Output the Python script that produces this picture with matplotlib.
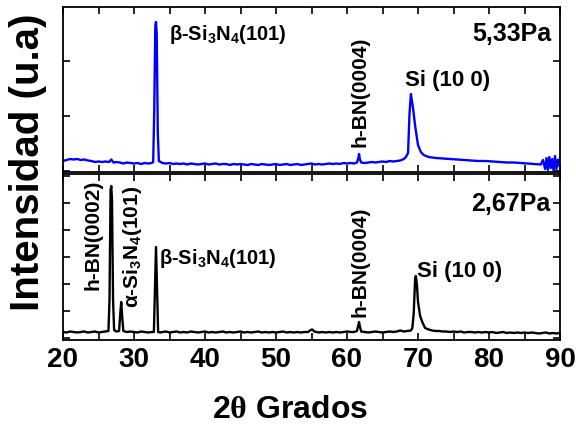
import matplotlib
matplotlib.use("Agg")
import matplotlib.pyplot as plt
from matplotlib.ticker import MultipleLocator

plt.rcParams['font.family'] = ['Liberation Sans', 'DejaVu Sans']
plt.rcParams['font.weight'] = 'bold'
plt.rcParams['mathtext.fontset'] = 'custom'
plt.rcParams['mathtext.rm'] = 'Liberation Sans:bold'
plt.rcParams['mathtext.it'] = 'Liberation Sans:bold'
plt.rcParams['mathtext.bf'] = 'Liberation Sans:bold'
plt.rcParams['mathtext.sf'] = 'Liberation Serif'

# ---- data: 5,33 Pa (blue, top) ----
x_533 = [20.0, 20.5, 21.0, 21.5, 22.0, 22.5, 23.0, 23.5, 24.0, 24.5, 25.0, 25.5, 26.0, 26.5,
         26.8, 27.1, 27.5, 28.0, 28.5, 29.0, 29.5, 30.0, 30.5, 31.0, 31.5, 32.0, 32.5, 32.7,
         32.85, 33.0, 33.1, 33.2, 33.35, 33.5, 34.0, 34.5, 35.0, 35.5, 36.0, 36.5, 37.0, 37.5,
         38.0, 38.5, 39.0, 39.5, 40.0, 40.5, 41.0, 41.5, 42.0, 42.5, 43.0, 43.5, 44.0, 44.5,
         45.0, 45.5, 46.0, 46.5, 47.0, 47.5, 48.0, 48.5, 49.0, 49.5, 50.0, 50.5, 51.0, 51.5,
         52.0, 52.5, 53.0, 53.5, 54.0, 54.5, 55.0, 55.5, 56.0, 56.5, 57.0, 57.5, 58.0, 58.5,
         59.0, 59.5, 60.0, 60.5, 61.0, 61.4, 61.6, 61.7, 61.8, 62.0, 62.5, 63.0, 63.5, 64.0,
         64.5, 65.0, 65.5, 66.0, 66.5, 67.0, 67.5, 68.0, 68.3, 68.6, 68.8, 69.0, 69.3, 69.6,
         70.0, 70.4, 70.8, 71.5, 72.5, 73.5, 74.5, 75.5, 76.5, 77.5, 78.5, 79.5, 80.5, 81.5,
         82.5, 83.5, 84.5, 85.5, 86.5, 87.3, 87.6, 87.9, 88.1, 88.3, 88.5, 88.7, 88.9, 89.1,
         89.3, 89.5, 89.7, 89.9, 90.0]
y_533 = [11, 12, 13, 12.5, 13, 12, 12.5, 11.5, 11, 10, 10.5, 10, 10.5, 10,
         12.5, 9.5, 10, 9.5, 8.5, 9.5, 9, 8.5, 9, 8, 9, 8.5, 9, 10,
         60, 146, 150, 138, 40, 11, 9, 8.5, 9, 8, 8.5, 8, 8.5, 7.5,
         8.5, 8, 7.5, 8, 8.5, 7.5, 8, 8.5, 7.5, 8, 8, 7, 8, 7.5,
         8, 7.5, 7, 8, 7.5, 7, 8, 7.5, 7, 7.5, 8, 7, 7.5, 8,
         7, 7.5, 8, 7, 7.5, 8, 8.5, 7.5, 8, 7.5, 8, 8.5, 8, 8.5,
         8, 9, 8.5, 9, 8.5, 9.5, 14, 18, 13, 9.5, 9, 9.5, 10, 9.5,
         10, 10.5, 10, 11, 10.5, 11, 11.5, 13, 15, 19, 58, 78, 64, 46,
         27, 20, 17, 15, 14, 13.5, 13, 12.5, 12, 11.5, 11, 11, 10.5, 10,
         9.5, 9.5, 9, 8.5, 8, 7.5, 12, 3, 14, 2, 15, 4, 13, 1,
         16, 3, 12, 6, 14]

# ---- data: 2,67 Pa (black, bottom) ----
x_267 = [20.0, 20.5, 21.0, 21.5, 22.0, 22.5, 23.0, 23.5, 24.0, 24.5, 25.0, 25.5, 26.0, 26.4,
         26.55, 26.7, 26.8, 26.9, 27.05, 27.2, 27.5, 27.9, 28.05, 28.2, 28.35, 28.5, 29.0, 29.5,
         30.0, 30.5, 31.0, 31.5, 32.0, 32.5, 32.8, 32.95, 33.1, 33.25, 33.4, 33.7, 34.0, 34.5,
         35.0, 35.5, 36.0, 36.5, 37.0, 37.5, 38.0, 38.5, 39.0, 39.5, 40.0, 40.5, 41.0, 41.5,
         42.0, 42.5, 43.0, 43.5, 44.0, 44.5, 45.0, 45.5, 46.0, 46.5, 47.0, 47.5, 48.0, 48.5,
         49.0, 49.5, 50.0, 50.5, 51.0, 51.5, 52.0, 52.5, 53.0, 53.5, 54.0, 54.5, 54.9, 55.1,
         55.4, 56.0, 56.5, 57.0, 57.5, 58.0, 58.5, 59.0, 59.5, 60.0, 60.5, 61.0, 61.4, 61.6,
         61.7, 61.8, 62.0, 62.5, 63.0, 63.5, 64.0, 64.5, 65.0, 65.5, 66.0, 66.5, 67.0, 67.5,
         68.0, 68.5, 69.0, 69.2, 69.4, 69.6, 69.7, 69.85, 70.0, 70.3, 70.6, 71.0, 71.5, 72.0,
         72.5, 73.0, 73.5, 74.0, 74.5, 75.0, 75.5, 76.0, 76.5, 77.0, 77.5, 78.0, 78.5, 79.0,
         79.5, 80.0, 80.5, 81.0, 81.5, 82.0, 82.5, 83.0, 83.5, 84.0, 84.5, 85.0, 85.5, 86.0,
         86.5, 87.0, 87.5, 88.0, 88.5, 89.0, 89.5, 90.0]
y_267 = [8, 7.5, 8.5, 8, 7.5, 8, 8.5, 7.5, 8, 8.5, 7.5, 8, 8.5, 9,
         40, 150, 154, 140, 40, 10, 8.5, 9, 25, 38, 22, 9, 8, 8.5,
         8, 7.5, 8.5, 8, 7.5, 8, 8, 50, 93, 50, 8, 7.5, 8, 8.5,
         7.5, 8, 8.5, 7.5, 8, 7.5, 8.5, 8, 7.5, 8, 8.5, 7.5, 8, 7.5,
         8, 8.5, 7.5, 8, 7.5, 8, 8.5, 7.5, 8, 7.5, 8, 8.5, 7.5, 8,
         7.5, 8, 7.5, 8, 8.5, 7.5, 8, 7.5, 8, 7.5, 8, 8, 10, 10.5,
         8.5, 7.5, 8, 7.5, 8, 7.5, 8, 7.5, 8, 8.5, 8, 8, 9, 15,
         18, 14, 8.5, 8, 7.5, 8, 8.5, 8, 7.5, 8, 8.5, 8, 8.5, 9.5,
         8.5, 9, 9.5, 12, 27, 62, 64, 55, 38, 24, 18, 12, 10.5, 9.5,
         9, 9, 8.5, 8.5, 8, 8.5, 8, 8.5, 7.5, 8, 8, 7.5, 8, 7.5,
         8, 7.5, 8, 7, 7.5, 8, 7, 7.5, 7, 7.5, 7, 7.5, 7, 7.5,
         7, 6.5, 7, 7.5, 6.5, 7, 6.5, 7]

xticks = [20, 30, 40, 50, 60, 70, 80, 90]

W, H = 576, 435
fig = plt.figure(figsize=(W / 100, H / 100), dpi=100)

def px_axes(left, top, right, bottom):
    return fig.add_axes([left / W, 1 - bottom / H, (right - left) / W, (bottom - top) / H])

ax1 = px_axes(63, 8, 560, 173)
ax2 = px_axes(63, 175, 560, 341)

ax1.plot(x_533, y_533, color='#0000ff', lw=1.7)
ax2.plot(x_267, y_267, color='black', lw=1.7)

ax1.set_ylim(0, 165)
ax2.set_ylim(0, 166)
for ax in (ax1, ax2):
    ax.set_xlim(20, 90)
    ax.xaxis.set_major_locator(MultipleLocator(10))
    ax.xaxis.set_minor_locator(MultipleLocator(5))
    ax.tick_params(which='both', direction='in', top=True, right=True, length=5, width=1.2)
    ax.set_yticklabels([])
    for s in ax.spines.values():
        s.set_linewidth(1.3)
ax1.set_yticks([1, 56, 111])
ax2.set_yticks([2, 29, 56, 83, 110, 137, 164])
ax1.set_xticklabels([])
ax2.set_xticks(xticks)
ax2.set_xticklabels([str(t) for t in xticks], fontsize=20, fontweight='bold')
ax2.tick_params(axis='x', pad=4)

# top annotations
ax1.text(34.9, 150, r'β-Si$_3$N$_4$(101)', fontsize=14.5, va='top', ha='left')
ax1.text(88.8, 151, '5,33Pa', fontsize=18, va='top', ha='right')
ax1.text(61.8, 26, 'h-BN(0004)', fontsize=15, rotation=90, va='bottom', ha='center')
ax1.text(68.2, 103, 'Si (10 0)', fontsize=16, va='top', ha='left')

# bottom annotations
ax2.text(24.2, 51, 'h-BN(0002)', fontsize=15, rotation=90, va='bottom', ha='center')
ax2.text(29.8, 33, r'α-Si$_3$N$_4$(101)', fontsize=15, rotation=90, va='bottom', ha='center')
ax2.text(33.5, 94, r'β-Si$_3$N$_4$(101)', fontsize=14.5, va='top', ha='left')
ax2.text(88.6, 149, '2,67Pa', fontsize=18, va='top', ha='right')
ax2.text(61.8, 24, 'h-BN(0004)', fontsize=15, rotation=90, va='bottom', ha='center')
ax2.text(69.9, 80, 'Si (10 0)', fontsize=16, va='top', ha='left')

fig.text(28 / W, 1 - 162 / H, 'Intensidad (u.a)', rotation=90, fontsize=29,
         fontweight='bold', ha='center', va='center')
fig.text(290 / W, 1 - 410 / H, r'2$\mathsf{\theta}$ Grados', fontsize=23,
         fontweight='bold', ha='center', va='center')

fig.savefig('out.png', dpi=100)
